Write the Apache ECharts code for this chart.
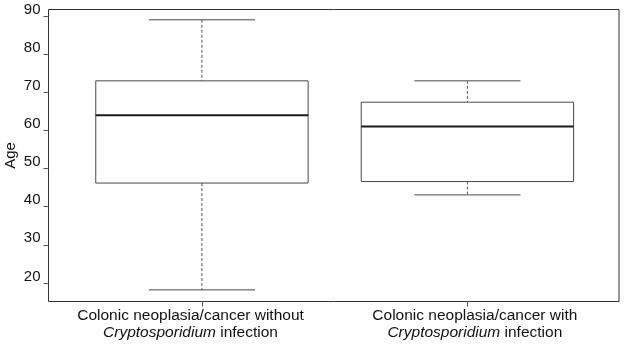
<!DOCTYPE html>
<html>
<head>
<meta charset="utf-8">
<script src="https://cdn.jsdelivr.net/npm/echarts@6/dist/echarts.min.js"></script>
<style>
  html, body { margin: 0; padding: 0; background: #fff; }
  #chart { width: 625px; height: 347px; }
</style>
</head>
<body>
<div id="chart"></div>
<script>
// groups on the x axis
const categories = [
  ["Colonic neoplasia/cancer without", "Cryptosporidium", " infection"],
  ["Colonic neoplasia/cancer with", "Cryptosporidium", " infection"]
];
const positions = [1, 2];
// five number summary, age in years
const minVals = [18.2, 43.1];
const q1Vals = [46.2, 46.6];
const medianVals = [64.0, 61.0];
const q3Vals = [73.0, 67.4];
const maxVals = [89.0, 73.0];
// y tick labels
const yTicks = [20, 30, 40, 50, 60, 70, 80, 90];

const chart = echarts.init(document.getElementById("chart"), null, { renderer: "canvas" });

let boxData = positions.map(function (p, i) {
  return [p, minVals[i], q1Vals[i], medianVals[i], q3Vals[i], maxVals[i]];
});

const font = "Liberation Sans, Arial, sans-serif";
// the labels in the original sit a little off their ticks
const labelShift = [-0.043, 0.028];
const labelAt = positions.map(function (p, i) { return p + labelShift[i]; });

function renderBox(params, api) {
  const x = api.value(0);
  const lo = api.value(1), q1 = api.value(2), med = api.value(3), q3 = api.value(4), hi = api.value(5);
  const half = 0.4, cap = 0.2;
  const tl = api.coord([x - half, q3]);
  const br = api.coord([x + half, q1]);
  const mL = api.coord([x - half, med]);
  const mR = api.coord([x + half, med]);
  const cTop = api.coord([x, hi]);
  const cQ3 = api.coord([x, q3]);
  const cQ1 = api.coord([x, q1]);
  const cBot = api.coord([x, lo]);
  const capTopL = api.coord([x - cap, hi]);
  const capTopR = api.coord([x + cap, hi]);
  const capBotL = api.coord([x - cap, lo]);
  const capBotR = api.coord([x + cap, lo]);
  const solid = { stroke: "#4a4a4a", lineWidth: 1 };
  const dashed = { stroke: "#555", lineWidth: 1, lineDash: [3, 2] };
  return {
    type: "group",
    children: [
      { type: "line", shape: { x1: cTop[0], y1: cTop[1], x2: cQ3[0], y2: cQ3[1] }, style: dashed },
      { type: "line", shape: { x1: cQ1[0], y1: cQ1[1], x2: cBot[0], y2: cBot[1] }, style: dashed },
      { type: "line", shape: { x1: capTopL[0], y1: capTopL[1], x2: capTopR[0], y2: capTopR[1] }, style: solid },
      { type: "line", shape: { x1: capBotL[0], y1: capBotL[1], x2: capBotR[0], y2: capBotR[1] }, style: solid },
      { type: "rect", shape: { x: tl[0], y: tl[1], width: br[0] - tl[0], height: br[1] - tl[1] },
        style: { fill: "#fff", stroke: "#4a4a4a", lineWidth: 1 } },
      { type: "line", shape: { x1: mL[0], y1: mL[1], x2: mR[0], y2: mR[1] },
        style: { stroke: "#1a1a1a", lineWidth: 2 } }
    ]
  };
}

let option = {
  animation: false,
  textStyle: { fontFamily: font },
  grid: {
    left: 48.5,
    top: 9.5,
    right: 6,
    bottom: 45.5,
    outerBoundsMode: "none",
    containLabel: false,
    show: true,
    borderColor: "#333",
    borderWidth: 1
  },
  xAxis: {
    type: "value",
    min: 0.422,
    max: 2.571,
    axisLine: { show: false },
    splitLine: { show: false },
    axisTick: {
      show: true,
      customValues: positions,
      length: 5,
      lineStyle: { color: "#555" }
    },
    axisLabel: {
      customValues: labelAt,
      margin: 6,
      formatter: function (v) {
        const c = categories[v < 1.5 ? 0 : 1];
        return "{n|" + c[0] + "}\n{i|" + c[1] + "}{n|" + c[2] + "}";
      },
      rich: {
        n: { fontSize: 15.5, color: "#111", fontFamily: font, lineHeight: 17 },
        i: { fontSize: 15.5, color: "#111", fontFamily: font, fontStyle: "italic", lineHeight: 17 }
      }
    }
  },
  yAxis: {
    type: "value",
    min: 15.15,
    max: 91.7,
    name: "Age",
    nameLocation: "middle",
    nameRotate: 90,
    nameGap: 30,
    nameMoveOverlap: false,
    nameTextStyle: { fontSize: 15, color: "#111", fontFamily: font },
    axisLine: { show: false },
    splitLine: { show: false },
    axisTick: {
      show: true,
      customValues: yTicks,
      length: 5,
      lineStyle: { color: "#555" }
    },
    axisLabel: {
      customValues: yTicks,
      margin: 8,
      fontSize: 15,
      color: "#111",
      verticalAlign: "bottom",
      padding: [0, 0, -1, 0]
    }
  },
  series: [{
    type: "custom",
    renderItem: renderBox,
    encode: { x: 0, y: [1, 2, 3, 4, 5] },
    data: boxData
  }]
};

chart.setOption(option);
</script>
</body>
</html>
